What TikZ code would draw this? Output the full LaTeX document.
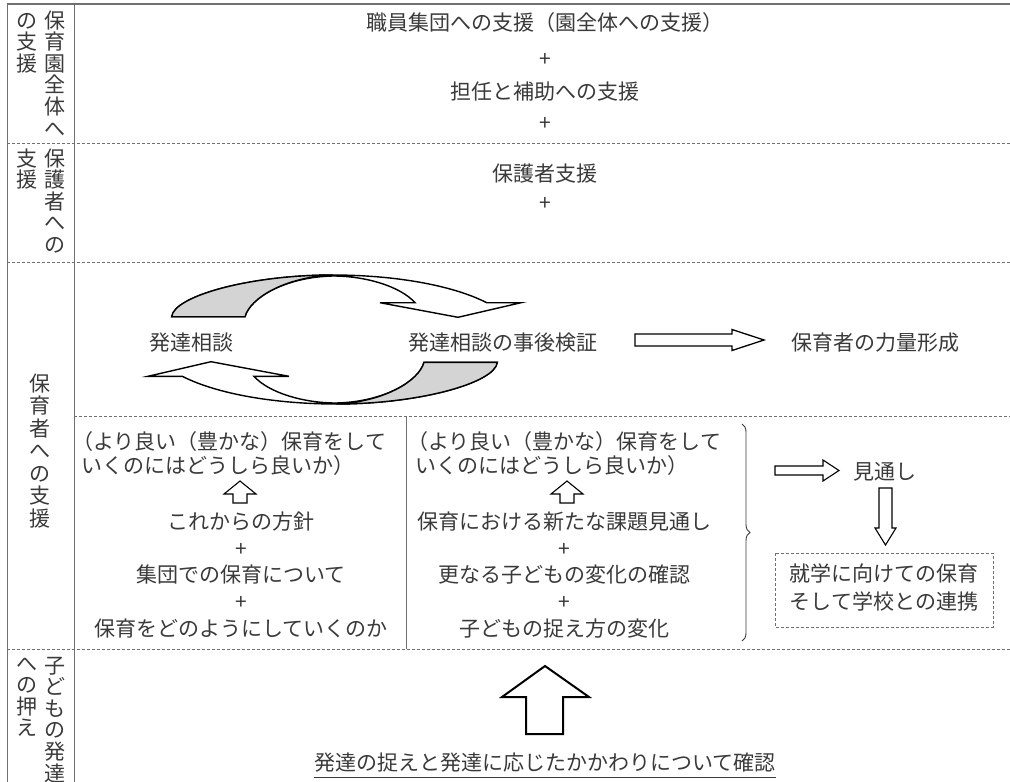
\documentclass[tikz,border=0pt]{standalone}
\usepackage{fontspec}
\newfontfamily\jp{Noto Sans CJK JP}
\usetikzlibrary{decorations.pathreplacing}
\definecolor{txt}{HTML}{3A3A3A}
\definecolor{framec}{HTML}{707070}
\definecolor{shadec}{HTML}{D4D4D4}
\tikzset{
  lbl/.style={font=\jp\fontsize{21}{24}\selectfont, text=txt, inner sep=0pt, text height=18.5pt, text depth=2.5pt},
  vchar/.style={lbl},
  framel/.style={draw=framec, line width=1pt},
  sepl/.style={draw=framec, line width=0.8pt, dash pattern=on 3pt off 2pt},
  blockarr/.style={draw=black, fill=white, line width=1.3pt, line join=miter},
  cyc/.style={draw=black, line width=1.4pt},
}
\newcommand\CycArrowPath{%
  \filldraw[cyc, fill=white] (171.7,316.7) .. controls (174,296) and (250,275) .. (333,275)
     .. controls (390,275) and (450,284) .. (486.7,302.7)
     -- (521,302.7) -- (458,317.3) -- (380,302.7) -- (415,302.7)
     .. controls (400,286) and (365,276) .. (333,276)
     .. controls (285,277) and (250,298) .. (245,316.7) -- cycle;
  \filldraw[cyc, fill=shadec] (171.7,316.7) .. controls (174,296) and (250,275) .. (333,275)
     .. controls (285,277) and (250,298) .. (245,316.7) -- cycle;
}
\begin{document}
\begin{tikzpicture}[x=1pt,y=-1pt]
\useasboundingbox (0,0) rectangle (1010,782);
\fill[white] (0,0) rectangle (1010,782);
% frame and separators
\draw[framel, line width=1.5pt] (7,4) -- (1010,4);
\draw[framel] (7,4) -- (7,782);
\draw[framel] (74,4) -- (74,782);
\draw[sepl] (7,143) -- (1010,143);
\draw[sepl] (7,262) -- (1010,262);
\draw[sepl] (74,416) -- (1010,416);
\draw[sepl] (7,649) -- (1010,649);
\draw[framel] (406,416) -- (406,649);
% vertical labels in the left column
\foreach \c [count=\i] in {保,育,園,全,体,へ} \node[vchar] (va\i) at (55,{20+21.6*(\i-1)}) {\c};
\foreach \c [count=\i] in {の,支,援} \node[vchar] (vb\i) at (27,{20+21.6*(\i-1)}) {\c};
\foreach \c [count=\i] in {保,護,者,へ,の} \node[vchar] (vc\i) at (55,{158+21.6*(\i-1)}) {\c};
\foreach \c [count=\i] in {支,援} \node[vchar] (vd\i) at (27,{158+21.6*(\i-1)}) {\c};
\foreach \c [count=\i] in {保,育,者,へ,の,支,援} \node[vchar] (ve\i) at (40,{383+22.5*(\i-1)}) {\c};
\foreach \c [count=\i] in {子,ど,も,の,発,達} \node[vchar] (vf\i) at (55,{665+21.6*(\i-1)}) {\c};
\foreach \c [count=\i] in {へ,の,押,え} \node[vchar] (vg\i) at (27,{663+21.6*(\i-1)}) {\c};
% top rows
\node[lbl] (t1) at (545,22) {職員集団への支援（園全体への支援）};
\node[lbl] (p1) at (545,58) {+};
\node[lbl] (t2) at (545,91) {担任と補助への支援};
\node[lbl] (p2) at (545,122) {+};
\node[lbl] (t3) at (545,173) {保護者支援};
\node[lbl] (p3) at (545,202) {+};
% cycle
\CycArrowPath
\begin{scope}[rotate around={180:(334.5,339.5)}]
\CycArrowPath
\end{scope}
\node[lbl] (soudan) at (191.5,342) {発達相談};
\node[lbl] (jigo) at (503,342) {発達相談の事後検証};
\node[lbl] (rikiryo) at (875,342) {保育者の力量形成};
\draw[blockarr] (635,334) -- (732,334) -- (732,329.5) -- (764,340) -- (732,350.5) -- (732,346) -- (635,346) -- cycle;
% middle blocks
\node[lbl, anchor=west] (a1) at (72,441) {（より良い（豊かな）保育をして};
\node[lbl, anchor=west] (a2) at (81,465) {いくのにはどうしら良いか）};
\node[lbl] (a3) at (241,521) {これからの方針};
\node[lbl] (a4) at (241,548) {+};
\node[lbl] (a5) at (241,574) {集団での保育について};
\node[lbl] (a6) at (241,601) {+};
\node[lbl] (a7) at (241,628) {保育をどのようにしていくのか};
\node[lbl, anchor=west] (b1) at (407,441) {（より良い（豊かな）保育をして};
\node[lbl, anchor=west] (b2) at (415,465) {いくのにはどうしら良いか）};
\node[lbl] (b3) at (564,521) {保育における新たな課題見通し};
\node[lbl] (b4) at (564,548) {+};
\node[lbl] (b5) at (564,574) {更なる子どもの変化の確認};
\node[lbl] (b6) at (564,601) {+};
\node[lbl] (b7) at (564,628) {子どもの捉え方の変化};
\foreach \cx in {240,567}
  \draw[blockarr, line width=1.1pt] (\cx,481) -- (\cx+16,494) -- (\cx+7,494) -- (\cx+7,503) -- (\cx-7,503) -- (\cx-7,494) -- (\cx-16,494) -- cycle;
\draw[draw=txt, line width=0.9pt, decorate, decoration={brace, amplitude=8pt}] (742,424) -- (742,641);
% right side
\draw[blockarr, line width=1.1pt] (775,466) -- (823,466) -- (823,460) -- (839,470.5) -- (823,481) -- (823,475) -- (775,475) -- cycle;
\node[lbl] (mitoshi) at (885,471) {見通し};
\draw[blockarr, line width=1.1pt] (879,488) -- (892,488) -- (892,528) -- (896,528) -- (885.5,545) -- (875,528) -- (879,528) -- cycle;
\draw[sepl] (775,553) rectangle (993,627);
\node[lbl] (c1) at (884,573) {就学に向けての保育};
\node[lbl] (c2) at (884,601) {そして学校との連携};
% bottom
\draw[blockarr, line width=2pt] (545,666) -- (589,697) -- (563,697) -- (563,734) -- (526,734) -- (526,697) -- (502,697) -- cycle;
\node[lbl] (kakunin) at (545,762) {発達の捉えと発達に応じたかかわりについて確認};
\draw[txt, line width=0.9pt] ([yshift=-4.5pt]kakunin.south west) -- ([yshift=-4.5pt]kakunin.south east);
\end{tikzpicture}
\end{document}
